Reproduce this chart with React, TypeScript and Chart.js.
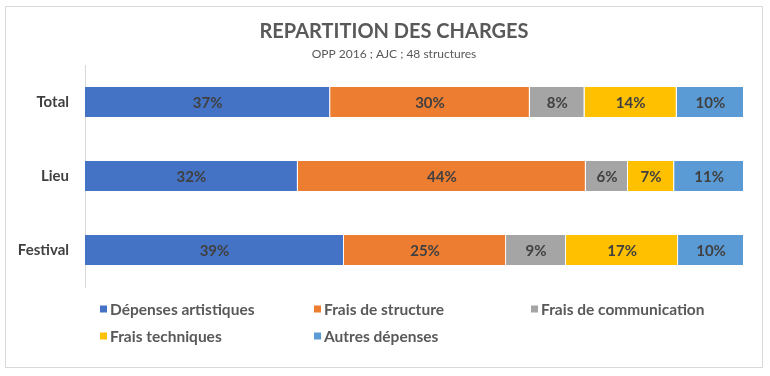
import React, { useEffect, useRef } from "react";
import { Chart, registerables } from "chart.js";

Chart.register(...registerables);

const categories = ["Total", "Lieu", "Festival"];
const seriesNames = [
  "Dépenses artistiques",
  "Frais de structure",
  "Frais de communication",
  "Frais techniques",
  "Autres dépenses",
];
const depensesArtistiques = [37.2, 32.3, 39.3];
const fraisStructure = [30.3, 43.7, 24.6];
const fraisCommunication = [8.3, 6.4, 9.1];
const fraisTechniques = [14.0, 7.0, 17.0];
const autresDepenses = [10.2, 10.6, 10.0];
const seriesColors = ["#4472C4", "#ED7D31", "#A5A5A5", "#FFC000", "#5B9BD5"];
const titleText = "REPARTITION DES CHARGES";
const subtitleText = "OPP 2016 ; AJC ; 48 structures";

const FONT = "Lato, 'Open Sans', sans-serif";

const dataLabelsPlugin = {
  id: "dataLabels",
  afterDatasetsDraw(chart: any) {
    const ctx = chart.ctx;
    ctx.save();
    ctx.font = `bold 15px ${FONT}`;
    ctx.fillStyle = "#404040";
    ctx.textAlign = "center";
    ctx.textBaseline = "middle";
    chart.data.datasets.forEach((ds: any, i: number) => {
      const meta = chart.getDatasetMeta(i);
      meta.data.forEach((el: any, j: number) => {
        const v = ds.data[j];
        const cx = (el.x + el.base) / 2;
        ctx.fillText(Math.round(v) + "%", cx, el.y + 1);
      });
    });
    ctx.restore();
  },
};

const gridLegendPlugin = {
  id: "gridLegend",
  afterDraw(chart: any) {
    const ctx = chart.ctx;
    const cols = [100, 314, 531];
    const rows = [309, 336];
    const box = 7;
    ctx.save();
    ctx.font = `bold 15.5px ${FONT}`;
    ctx.textBaseline = "middle";
    ctx.textAlign = "left";
    chart.data.datasets.forEach((ds: any, i: number) => {
      const x = cols[i % 3];
      const y = rows[Math.floor(i / 3)];
      ctx.fillStyle = ds.backgroundColor;
      ctx.fillRect(x, y - box / 2, box, box);
      ctx.fillStyle = "#595959";
      ctx.fillText(ds.label, x + 10, y + 1);
    });
    ctx.restore();
  },
};

// shift the title & subtitle boxes so they are centred where the reference has them
const titleShiftPlugin = {
  id: "titleShift",
  afterLayout(chart: any) {
    chart.boxes.forEach((b: any) => {
      if (b && b.options && b.options.text !== undefined && b.isHorizontal && !b.chart?.scales?.[b.id]) {
        b.left += 22;
        b.right += 22;
      }
    });
  },
};

export default function App() {
  const ref = useRef<HTMLCanvasElement | null>(null);
  useEffect(() => {
    if (!ref.current) return;
    const seriesValues = [
      depensesArtistiques,
      fraisStructure,
      fraisCommunication,
      fraisTechniques,
      autresDepenses,
    ];
    const chart = new Chart(ref.current, {
      type: "bar",
      data: {
        labels: categories,
        datasets: seriesValues.map((vals, i) => ({
          label: seriesNames[i],
          data: vals,
          backgroundColor: seriesColors[i],
          borderColor: "#ffffff",
          borderWidth: { top: 0, bottom: 0, left: 0, right: 1 },
          borderSkipped: false,
          barPercentage: 0.405,
          categoryPercentage: 1,
        })),
      },
      options: {
        indexAxis: "y",
        responsive: false,
        animation: false,
        devicePixelRatio: 1,
        layout: { padding: { left: 0, right: 26, top: 0, bottom: 89 } },
        plugins: {
          legend: { display: false },
          tooltip: { enabled: false },
          title: {
            display: true,
            text: titleText,
            color: "#595959",
            font: { family: FONT, size: 20, weight: "bold" },
            padding: { top: 20, bottom: 3 },
          },
          subtitle: {
            display: true,
            text: subtitleText,
            color: "#595959",
            font: { family: FONT, size: 12 },
            padding: { top: 0, bottom: 3.6 },
          },
        },
        scales: {
          x: {
            stacked: true,
            min: 0,
            max: 100,
            display: false,
          },
          y: {
            stacked: true,
            offset: true,
            grid: { display: false, drawTicks: false },
            border: { display: true, color: "#D9D9D9", width: 1 },
            ticks: {
              color: "#404040",
              font: { family: FONT, size: 15, weight: "bold" },
              padding: 16,
            },
            afterFit(scale: any) {
              scale.width = 85;
            },
          },
        },
      },
      plugins: [dataLabelsPlugin, gridLegendPlugin, titleShiftPlugin],
    } as any);
    return () => chart.destroy();
  }, []);

  return (
    <div
      style={{
        position: "fixed",
        left: 0,
        top: 0,
        width: 770,
        height: 376,
        background: "#ffffff",
      }}
    >
      <canvas
        ref={ref}
        width={770}
        height={376}
        style={{ position: "absolute", left: 0, top: 0, width: 770, height: 376 }}
      />
      <div
        style={{
          position: "absolute",
          left: 5,
          top: 6,
          width: 758,
          height: 362,
          boxSizing: "border-box",
          border: "1px solid #D9D9D9",
          pointerEvents: "none",
        }}
      />
    </div>
  );
}
